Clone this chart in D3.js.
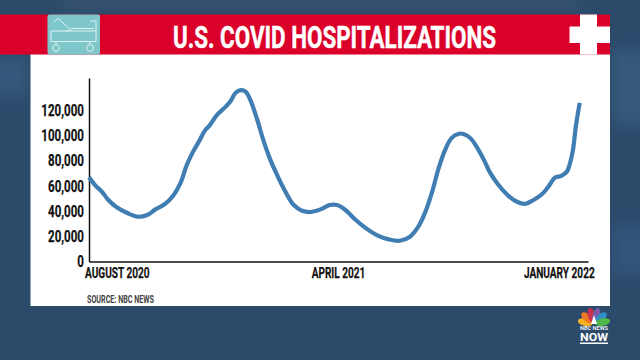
<!DOCTYPE html>
<html>
<head>
<meta charset="utf-8">
<script src="https://cdn.jsdelivr.net/npm/d3@7"></script>
<style>
    html, body { margin: 0; padding: 0; background: #2c4a6a; }
    svg { display: block; }
    text { font-family: "Roboto", sans-serif; font-weight: 700; }
</style>
</head>
<body>
<div id="chart"></div>
<script>
// days since the start of August 2020
var days = [0, 6.5, 14, 21, 30, 41, 53, 63, 72, 82, 91, 99, 106, 113, 120, 126, 131, 139, 148, 153,
    159, 165, 170, 175, 182, 189, 196, 204, 213, 222, 231, 240, 251, 261, 269, 278, 288, 299, 312, 325,
    337, 348, 357, 364, 372, 379, 386, 393, 401, 406, 413, 420, 428, 435, 444, 455, 464, 473, 482, 491,
    498, 505, 512, 518, 524, 528, 532];
var hospitalized = [66500, 60400, 55100, 48550, 42800, 38500, 35400, 36700, 41200, 45200, 51700, 61700, 76200, 87000, 95900, 103800, 107800, 116000, 122200, 126200,
    133300, 135400, 134000, 127500, 113000, 95900, 81500, 68300, 55100, 44600, 40100, 39100, 41200, 44600, 44600, 40700, 33600, 27000, 20900, 17500,
    16400, 19600, 27500, 38000, 55100, 73600, 88000, 97500, 101000, 100700, 97800, 91000, 80500, 70000, 60400, 51700, 47200, 45600, 48600, 53100,
    59100, 66200, 67700, 70900, 85400, 107800, 125400];
var yTicks = [0, 20000, 40000, 60000, 80000, 100000, 120000];
var xTickDays = [0, 243, 532];
var xTickLabels = ["AUGUST 2020", "APRIL 2021", "JANUARY 2022"];
var titleText = "U.S. COVID HOSPITALIZATIONS";
var sourceText = "SOURCE: NBC NEWS";

var width = 640, height = 360;
var svg = d3.select("#chart").append("svg")
    .attr("width", width)
    .attr("height", height);

// squeeze a label, no condensed face is installed
function squeeze(sel, factor) {
    sel.each(function () {
        d3.select(this)
            .attr("textLength", this.getComputedTextLength() * factor)
            .attr("lengthAdjust", "spacingAndGlyphs");
    });
}

///////////////////////
// backdrop
svg.append("defs").append("filter").attr("id", "soft")
    .append("feGaussianBlur").attr("stdDeviation", 7);
var backdrop = svg.append("g");
backdrop.append("rect").attr("width", width).attr("height", height).attr("fill", "#2c4a6a");
var blurred = backdrop.append("g").attr("filter", "url(#soft)");
blurred.append("rect").attr("x", 60).attr("y", -10).attr("width", 520).attr("height", 20).attr("fill", "#34516f");
blurred.append("rect").attr("x", 612).attr("y", 50).attr("width", 40).attr("height", 75).attr("fill", "#365a7c");
blurred.append("rect").attr("x", -10).attr("y", 56).attr("width", 38).attr("height", 40).attr("fill", "#36597b");
blurred.append("rect").attr("x", 612).attr("y", 225).attr("width", 40).attr("height", 50).attr("fill", "#33557a");

svg.append("rect").attr("x", 30.5).attr("y", 54).attr("width", 579.5).attr("height", 252).attr("fill", "#ffffff");

///////////////////////
// banner
svg.append("rect").attr("x", 0).attr("y", 14.5).attr("width", 610).attr("height", 40).attr("fill", "#db0029");
svg.append("text")
    .attr("x", 173).attr("y", 47.5)
    .attr("textLength", 323).attr("lengthAdjust", "spacingAndGlyphs")
    .attr("font-size", 32).attr("fill", "#ffffff")
    .attr("stroke", "#ffffff").attr("stroke-width", 0.5)
    .text(titleText);

// cross
svg.append("rect").attr("x", 580).attr("y", 14.5).attr("width", 17).attr("height", 40).attr("fill", "#ffffff");
svg.append("rect").attr("x", 569.5).attr("y", 26.5).attr("width", 40.5).attr("height", 16.5).attr("fill", "#ffffff");

// bed icon
svg.append("rect").attr("x", 47.5).attr("y", 14.5).attr("width", 52.5).attr("height", 40).attr("rx", 2).attr("fill", "#7fc6ca");
var bed = svg.append("g").attr("fill", "none").attr("stroke", "#dff3f3").attr("stroke-width", 1);
bed.append("path").attr("d", d3.line()([[51, 31], [96, 31]]));
bed.append("path").attr("d", d3.line()([[51, 41.5], [96, 41.5]]));
bed.append("path").attr("d", d3.line()([[51, 31], [51, 41.5]]));
bed.append("path").attr("d", d3.line()([[96, 21], [96, 41.5]]));
bed.append("path").attr("d", d3.line()([[90, 21], [96, 21]]));
bed.append("path").attr("d", d3.line()([[71, 28.5], [94, 28.5]]));
bed.append("path").attr("d", d3.line()([[54, 22], [58, 18.5], [71, 30], [65, 31]]));
bed.append("path").attr("d", d3.line()([[56, 41.5], [56, 44]]));
bed.append("path").attr("d", d3.line()([[90, 41.5], [90, 44]]));
bed.append("circle").attr("cx", 56).attr("cy", 48).attr("r", 3.4);
bed.append("circle").attr("cx", 90).attr("cy", 48).attr("r", 3.4);

///////////////////////
// scales
var x = d3.scaleLinear().domain([0, 541]).range([89, 588]);
var y = d3.scaleLinear().domain([0, 145000]).range([261.5, 78]);

///////////////////////
// axes
var xAxis = d3.axisBottom(x)
    .tickValues(xTickDays)
    .tickSize(0)
    .tickPadding(5)
    .tickFormat(function (d, i) { return xTickLabels[i]; });
var yAxis = d3.axisLeft(y)
    .tickValues(yTicks)
    .tickSize(0)
    .tickPadding(5)
    .tickFormat(d3.format(","));

var gx = svg.append("g").attr("transform", "translate(0,261.5)").call(xAxis);
var gy = svg.append("g").attr("transform", "translate(89,0)").call(yAxis);

gx.selectAll("path.domain").attr("stroke", "#111").attr("stroke-width", 1.5);
gy.selectAll("path.domain").attr("stroke", "#111").attr("stroke-width", 1.5);
gy.selectAll("text").attr("font-size", 17).attr("fill", "#111").attr("stroke", "#111").attr("stroke-width", 0.25).call(squeeze, 0.68);
gx.selectAll("text").attr("font-size", 15.5).attr("fill", "#111").attr("stroke", "#111").attr("stroke-width", 0.25)
    .attr("text-anchor", function (d, i) { return ["start", "start", "end"][i]; })
    .attr("dx", function (d, i) { return [-4.5, -2, 14.5][i]; })
    .call(squeeze, 0.65);

///////////////////////
// line
var line = d3.line()
    .x(function (d) { return x(d); })
    .y(function (d, i) { return y(hospitalized[i]); })
    .curve(d3.curveCatmullRom);

svg.append("path")
    .attr("d", line(days))
    .attr("fill", "none")
    .attr("stroke", "#3f7db2")
    .attr("stroke-width", 4.2)
    .attr("stroke-linejoin", "round");

svg.append("text")
    .attr("x", 87).attr("y", 303)
    .attr("font-size", 11).attr("fill", "#444")
    .attr("textLength", 67).attr("lengthAdjust", "spacingAndGlyphs")
    .text(sourceText);

///////////////////////
// network bug
var feathers = [
    { a: -78, c: "#f5b324" },
    { a: -48, c: "#ee7b22" },
    { a: -16, c: "#c8324e" },
    { a: 16, c: "#7a5aa6" },
    { a: 48, c: "#2e8fc9" },
    { a: 78, c: "#4fb648" }
];
var bug = svg.append("g").attr("transform", "translate(594,324)");
bug.selectAll("ellipse").data(feathers).enter().append("ellipse")
    .attr("cx", 0).attr("cy", -9).attr("rx", 3.8).attr("ry", 7.5)
    .attr("fill", function (d) { return d.c; })
    .attr("transform", function (d) { return "rotate(" + d.a + ")"; });
bug.append("path").attr("d", "M-3,0L0,-9L3,0Z").attr("fill", "#ffffff");
svg.append("text").attr("x", 594).attr("y", 329.5).attr("text-anchor", "middle")
    .attr("font-size", 5.5).attr("fill", "#e8eef3")
    .attr("textLength", 28).attr("lengthAdjust", "spacingAndGlyphs").text("NBC NEWS");
svg.append("text").attr("x", 594).attr("y", 341).attr("text-anchor", "middle")
    .attr("font-size", 10.5).attr("fill", "#ffffff")
    .attr("textLength", 28).attr("lengthAdjust", "spacingAndGlyphs").text("NOW");
svg.append("rect").attr("x", 580).attr("y", 342.5).attr("width", 28).attr("height", 1.5).attr("fill", "#ffffff");
</script>
</body>
</html>
